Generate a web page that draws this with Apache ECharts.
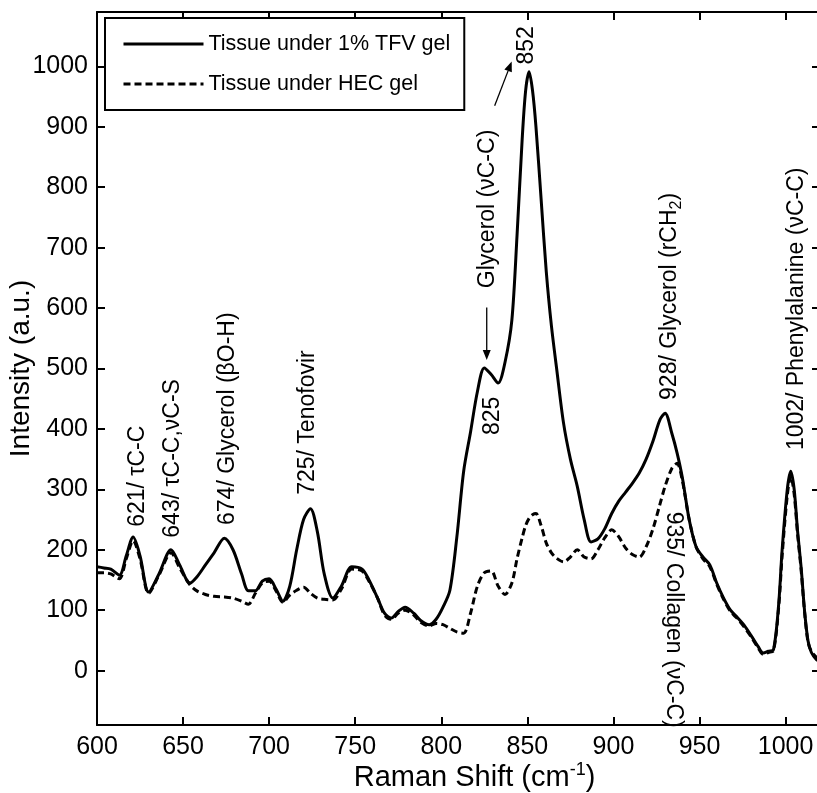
<!DOCTYPE html>
<html>
<head>
<meta charset="utf-8">
<script src="https://cdn.jsdelivr.net/npm/echarts@6/dist/echarts.min.js"></script>
<style>
  html, body { margin: 0; padding: 0; background: #fff; }
  #chart { width: 817px; height: 793px; }
</style>
</head>
<body>
<div id="chart"></div>
<script>
// raman shift (cm-1), shared by both spectra
const shiftX = [600,604,608,613,617,621,625,630,636,643,648,654,658,663,668,674,679,684,688,692,
  696,700,704,708,712,716,720,724,728,732,737,742,748,754,758,763,767,771,775,779,
  784,788,793,797,801,805,809,813,817,821,825,829,833,837,841,844,847,849,851,853,
  855,858,861,864,867,871,875,879,883,887,891,895,899,903,907,911,915,919,923,927,
  930,934,937,940,944,948,952,956,960,964,968,972,976,980,984,987,990,993,996,998,
  1001,1003,1005,1007,1009,1011,1013,1015,1018,1020];

// Tissue under 1% TFV gel
const tfvGel = [172,170,168,158,190,221,190,130,160,200,175,145,155,175,195,219,200,160,132,132,
  148,152,135,115,140,200,250,268,230,160,120,140,172,168,150,120,95,87,98,105,
  95,83,76,85,105,133,220,330,395,462,501,490,476,510,580,720,880,960,991,960,
  900,780,660,570,500,410,350,305,250,213,218,235,260,280,295,310,327,350,380,415,
  426,392,360,320,250,205,188,175,145,120,100,88,75,58,40,29,32,35,110,200,
  300,330,300,230,172,100,50,30,18,15];

// Tissue under HEC gel
const hecGel = [162,162,160,152,185,215,185,128,158,195,170,142,132,126,123,122,120,115,110,128,
  145,148,132,113,125,133,138,128,120,118,117,135,168,165,148,120,92,85,95,100,
  92,80,74,78,76,70,64,62,95,140,162,165,140,126,145,185,220,240,252,258,
  260,240,211,195,186,180,188,200,188,185,200,220,233,222,203,192,188,205,235,275,
  305,335,343,315,250,205,185,172,143,118,98,86,72,56,38,27,30,33,105,190,
  290,322,292,225,168,98,48,32,22,20];

const xTicks = [600,650,700,750,800,850,900,950,1000];
const yTicks = [0,100,200,300,400,500,600,700,800,900,1000];

// peak annotations: text, anchor [shift, intensity] at the start of the text, reading direction
const peakNotes = [
  ['621/ τC-C', 623.8, 238, 1],
  ['643/ τC-C,νC-S', 644.1, 220, 1],
  ['674/ Glycerol (βO-H)', 676, 241, 1],
  ['725/ Tenofovir', 722.5, 291, 1],
  ['825', 829.9, 390, 1],
  ['Glycerol (νC-C)', 827, 633, 1],
  ['852', 849.6, 1003, 1],
  ['928/ Glycerol (rCH{sub|2})', 932.6, 448, 1],
  ['1002/ Phenylalanine (νC-C)', 1006.3, 365, 1],
  ['935/ Collagen (νC-C)', 934.9, 263, -1]
];
// arrows: from, to
const noteArrows = [
  [[826.4, 601], [826.4, 514]],
  [[831, 935], [840.9, 1008]]
];

const FONT = '"Liberation Sans", Arial, Helvetica, sans-serif';
const chart = echarts.init(document.getElementById('chart'));

const axisLine = { show: true, onZero: false, lineStyle: { color: '#000', width: 2 } };
const tick = (vals) => ({ show: true, inside: true, length: 8, customValues: vals, lineStyle: { color: '#000', width: 2 } });
const plain = (v) => String(v);

const option = {
  animation: false,
  backgroundColor: '#fff',
  grid: { left: 97, top: 12, width: 723, height: 713, outerBoundsMode: 'none', containLabel: false },
  legend: {
    data: ['Tissue under 1% TFV gel', 'Tissue under HEC gel'],
    orient: 'vertical',
    left: 105,
    top: 18,
    padding: [15, 14, 15, 17],
    itemWidth: 80,
    itemHeight: 14,
    itemGap: 18,
    borderColor: '#000',
    borderWidth: 2,
    backgroundColor: '#fff',
    itemStyle: { opacity: 0 },
    lineStyle: { width: 3 },
    textStyle: { fontSize: 21.5, color: '#000', fontFamily: FONT }
  },
  xAxis: [
    {
      type: 'value', min: 600, max: 1020, position: 'bottom',
      axisLine: axisLine,
      axisTick: tick(xTicks),
      axisLabel: { customValues: xTicks, formatter: plain, fontSize: 25, color: '#000', fontFamily: FONT, margin: 10 },
      splitLine: { show: false },
      name: 'Raman Shift (cm{sup|-1})',
      nameLocation: 'middle',
      nameGap: 36,
      nameMoveOverlap: false,
      nameTextStyle: {
        fontSize: 29, color: '#000', fontFamily: FONT, lineHeight: 34, padding: [0, 0, 0, 32],
        rich: { sup: { fontSize: 18, fontFamily: FONT, color: '#000', verticalAlign: 'top', lineHeight: 18 } }
      }
    },
    {
      type: 'value', min: 600, max: 1020, position: 'top',
      axisLine: axisLine, axisTick: tick(xTicks),
      axisLabel: { show: false }, splitLine: { show: false }
    }
  ],
  yAxis: [
    {
      type: 'value', min: -90, max: 1090, position: 'left',
      axisLine: axisLine,
      axisTick: tick(yTicks),
      axisLabel: { customValues: yTicks, formatter: plain, fontSize: 25, color: '#000', fontFamily: FONT, margin: 9 },
      splitLine: { show: false },
      name: 'Intensity (a.u.)',
      nameLocation: 'middle',
      nameGap: 62,
      nameMoveOverlap: false,
      nameTextStyle: { fontSize: 28, color: '#000', fontFamily: FONT }
    },
    {
      type: 'value', min: -90, max: 1090, position: 'right',
      axisLine: axisLine, axisTick: tick(yTicks),
      axisLabel: { show: false }, splitLine: { show: false }
    }
  ],
  series: [
    {
      name: 'Tissue under 1% TFV gel',
      type: 'line',
      xAxisIndex: 0, yAxisIndex: 0,
      data: shiftX.map((x, i) => [x, tfvGel[i]]),
      smooth: 0.3,
      symbol: 'none',
      lineStyle: { color: '#000', width: 3 },
      itemStyle: { color: '#000' },
      z: 3
    },
    {
      name: 'Tissue under HEC gel',
      type: 'line',
      xAxisIndex: 0, yAxisIndex: 0,
      data: shiftX.map((x, i) => [x, hecGel[i]]),
      smooth: 0.3,
      symbol: 'none',
      lineStyle: { color: '#000', width: 3, type: [7, 4] },
      itemStyle: { color: '#000' },
      z: 2
    }
  ]
};

chart.setOption(option);

// annotations placed through the axis scales
const toPx = (p) => chart.convertToPixel({ xAxisIndex: 0, yAxisIndex: 0 }, p);
const graphics = [];
peakNotes.forEach(([text, x, y, dir]) => {
  const p = toPx([x, y]);
  graphics.push({
    type: 'text',
    x: p[0], y: p[1],
    rotation: dir * Math.PI / 2,
    style: {
      text: text,
      fontSize: 23,
      fontFamily: FONT,
      fill: '#000',
      align: 'left',
      verticalAlign: 'middle',
      lineHeight: 30,
      rich: { sub: { fontSize: 16, fontFamily: FONT, fill: '#000', verticalAlign: 'bottom', lineHeight: 16 } }
    },
    z: 10
  });
});
noteArrows.forEach(([a, b]) => {
  const p0 = toPx(a), p1 = toPx(b);
  const dx = p1[0] - p0[0], dy = p1[1] - p0[1];
  const len = Math.hypot(dx, dy);
  const ux = dx / len, uy = dy / len;
  const hl = 10, hw = 4;
  const bx = p1[0] - ux * hl, by = p1[1] - uy * hl;
  graphics.push({
    type: 'line',
    shape: { x1: p0[0], y1: p0[1], x2: bx, y2: by },
    style: { stroke: '#000', lineWidth: 1.3 },
    z: 10
  });
  graphics.push({
    type: 'polygon',
    shape: { points: [p1, [bx - uy * hw, by + ux * hw], [bx + uy * hw, by - ux * hw]] },
    style: { fill: '#000' },
    z: 10
  });
});
chart.setOption({ graphic: graphics });
</script>
</body>
</html>
